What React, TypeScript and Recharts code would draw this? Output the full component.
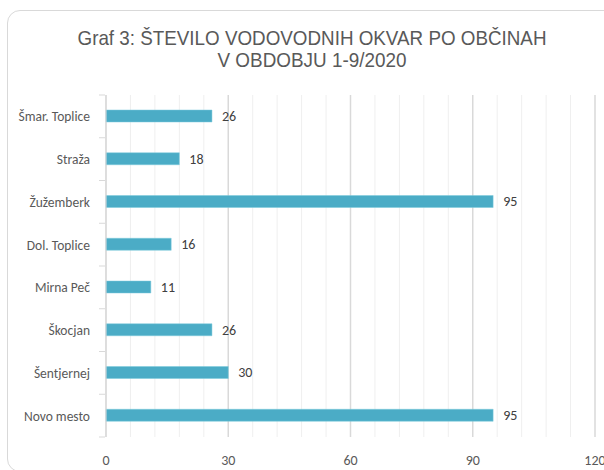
import { Bar, BarChart, CartesianGrid, LabelList, XAxis, YAxis } from "recharts";

const municipalities = [
  "Šmar. Toplice",
  "Straža",
  "Žužemberk",
  "Dol. Toplice",
  "Mirna Peč",
  "Škocjan",
  "Šentjernej",
  "Novo mesto"
];
const failures = [26, 18, 95, 16, 11, 26, 30, 95];
const majorTicks = [0, 30, 60, 90, 120];
const minorTicks = [6, 12, 18, 24, 36, 42, 48, 54, 66, 72, 78, 84, 96, 102, 108, 114];

const data = municipalities.map((name, i) => ({ name, value: failures[i] }));

const W = 604;
const H = 470;
const TOP = 95;
const BOTTOM = 33;
const band = (H - TOP - BOTTOM) / municipalities.length;
const labelFont = "Carlito, Calibri, 'Liberation Sans Narrow', Lato, sans-serif";

function CategoryTick(props: any) {
  const { x, y, payload, index } = props;
  const last = index === municipalities.length - 1;
  return (
    <g>
      <line x1={x + 1} x2={x + 7} y1={y - band / 2} y2={y - band / 2} stroke="#d9d9d9" />
      {last && <line x1={x + 1} x2={x + 7} y1={y + band / 2} y2={y + band / 2} stroke="#d9d9d9" />}
      <text x={x - 8} y={y} dy={5} textAnchor="end" fontSize={13.5} fill="#595959" fontFamily={labelFont}>
        {payload.value}
      </text>
    </g>
  );
}

function minorLines({ xAxis, offset }: any) {
  if (xAxis && typeof xAxis.scale === "function") {
    return minorTicks.map((t) => xAxis.scale(t));
  }
  return minorTicks.map((t) => offset.left + (t / 120) * offset.width);
}

export default function App() {
  return (
    <div style={{ position: "absolute", left: 0, top: 0, width: W, height: H, overflow: "hidden", background: "#fff" }}>
      <div
        style={{
          position: "absolute",
          left: 7,
          top: 10,
          width: 640,
          height: 460,
          border: "1px solid #d9d9d9",
          borderRadius: 13
        }}
      />
      <svg width={W} height={90} style={{ position: "absolute", left: 0, top: 0 }}>
        <text
          x={312}
          y={45}
          textAnchor="middle"
          fontSize={21}
          fill="#595959"
          fontFamily="'Liberation Sans Narrow', 'Liberation Sans', Arial, sans-serif"
          textLength={469}
          lengthAdjust="spacingAndGlyphs"
        >
          Graf 3: ŠTEVILO VODOVODNIH OKVAR PO OBČINAH
        </text>
        <text
          x={312}
          y={67}
          textAnchor="middle"
          fontSize={21}
          fill="#595959"
          fontFamily="'Liberation Sans Narrow', 'Liberation Sans', Arial, sans-serif"
          textLength={189}
          lengthAdjust="spacingAndGlyphs"
        >
          V OBDOBJU 1-9/2020
        </text>
      </svg>
      <div style={{ position: "absolute", left: 0, top: 0 }}>
        <BarChart
          width={W}
          height={H}
          data={data}
          layout="vertical"
          margin={{ top: TOP, right: 9, bottom: 0, left: 0 }}
          barCategoryGap={0}
        >
          <CartesianGrid horizontal={false} stroke="#efefef" verticalCoordinatesGenerator={minorLines} />
          <CartesianGrid horizontal={false} stroke="#d9d9d9" strokeWidth={1.5} />
          <XAxis
            type="number"
            domain={[0, 120]}
            ticks={majorTicks}
            axisLine={false}
            tickLine={false}
            height={BOTTOM}
            tick={{ fontSize: 14, fill: "#595959", fontFamily: labelFont }}
            tickMargin={12}
            interval={0}
          />
          <YAxis
            type="category"
            dataKey="name"
            width={106}
            axisLine={{ stroke: "#d9d9d9" }}
            tickLine={false}
            tick={<CategoryTick />}
            interval={0}
          />
          <Bar dataKey="value" fill="#4bacc6" stroke="#7ccbdc" strokeWidth={0.5} barSize={12} isAnimationActive={false}>
            <LabelList dataKey="value" position="right" offset={10} fontSize={14} fill="#404040" fontFamily={labelFont} />
          </Bar>
        </BarChart>
      </div>
    </div>
  );
}
